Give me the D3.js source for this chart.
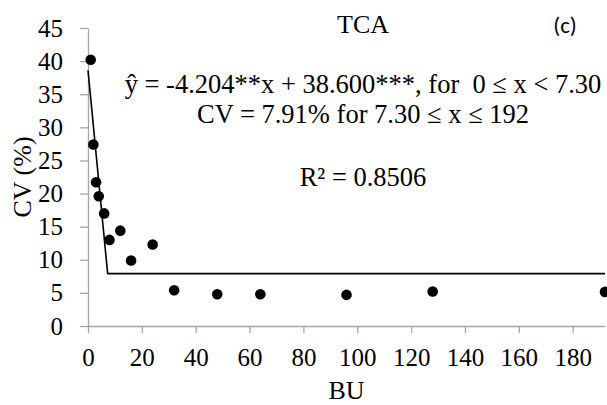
<!DOCTYPE html>
<html>
<head>
<meta charset="utf-8">
<script src="https://cdn.jsdelivr.net/npm/d3@7"></script>
<style>
  html, body { margin: 0; padding: 0; background: #fff; }
  svg { display: block; }
</style>
</head>
<body>
<script>
// Bit usage (BU) and coefficient of variation (CV, %) observations
const bu = [1, 2, 3, 4, 6, 8, 12, 16, 24, 32, 48, 64, 96, 128, 192];
const cv = [40.2, 27.4, 21.7, 19.6, 17.0, 13.0, 14.4, 9.9, 12.3, 5.4, 4.8, 4.8, 4.7, 5.2, 5.15];

// Linear-plateau fit: slope, intercept, join point and plateau
const slope = -4.204;
const intercept = 38.600;
const joinPoint = 7.30;
const plateau = 7.91;
const xMax = 192;

const xTicks = [0, 20, 40, 60, 80, 100, 120, 140, 160, 180];
const yTicks = [0, 5, 10, 15, 20, 25, 30, 35, 40, 45];

const eqLines = [
  "ŷ = -4.204**x + 38.600***, for  0 ≤ x < 7.30",
  "CV = 7.91% for 7.30 ≤ x ≤ 192"
];
const r2Text = "R² = 0.8506";

const SERIF = "'Liberation Serif', Tinos, 'Times New Roman', Times, serif";

const W = 607, H = 405;
const svg = d3.select("body").append("svg").attr("width", W).attr("height", H);

const x = d3.scaleLinear().domain([0, 192]).range([88, 605]);
const y = d3.scaleLinear().domain([0, 45]).range([326, 28]);

const axisColor = "#a6a6a6";

// X axis
const gx = svg.append("g").attr("transform", `translate(0,${y(0)})`)
  .call(d3.axisBottom(x).tickValues(xTicks).tickSize(7).tickSizeOuter(0).tickPadding(15));
// Y axis
const gy = svg.append("g").attr("transform", `translate(${x(0)},0)`)
  .call(d3.axisLeft(y).tickValues(yTicks).tickSize(8).tickSizeOuter(0).tickPadding(17));

[gx, gy].forEach(g => {
  g.attr("font-family", null).attr("font-size", null);
  g.select(".domain").attr("stroke", axisColor).attr("stroke-width", 1.3);
  g.selectAll(".tick line").attr("stroke", axisColor).attr("stroke-width", 1.3);
  g.selectAll(".tick text")
    .style("font-family", SERIF)
    .style("font-size", "25px")
    .attr("fill", "#000");
});

// Fitted linear-plateau line
const fit = v => (v < joinPoint ? slope * v + intercept : plateau);
const fitXs = [0, joinPoint, xMax];
svg.append("path")
  .datum(fitXs)
  .attr("fill", "none")
  .attr("stroke", "#000")
  .attr("stroke-width", 1.6)
  .attr("stroke-linejoin", "round")
  .attr("d", d3.line().x(d => x(d)).y(d => y(d === joinPoint ? plateau : fit(d))));

// Observed points
svg.append("g").selectAll("circle")
  .data(bu.map((b, i) => ({ b, c: cv[i] })))
  .join("circle")
  .attr("cx", d => x(d.b))
  .attr("cy", d => y(d.c))
  .attr("r", 5.3)
  .attr("fill", "#000");

function label(txt, px, py, size) {
  return svg.append("text")
    .attr("x", px).attr("y", py)
    .attr("text-anchor", "middle")
    .style("font-family", SERIF)
    .style("font-size", size + "px")
    .style("white-space", "pre")
    .attr("fill", "#000")
    .text(txt);
}

// Title and panel tag
label("TCA", 363, 33, 26);
svg.append("text")
  .attr("x", 565).attr("y", 33)
  .attr("text-anchor", "middle")
  .style("font-family", "Carlito, Calibri, Lato, sans-serif")
  .style("font-size", "23px")
  .attr("fill", "#000")
  .text("(c)");

// Fit equation and R²
eqLines.forEach((t, i) => label(t, 363, 93 + i * 30, 26.5));
label(r2Text, 363, 186, 26.5);

// Axis titles
label("BU", x(96), 399, 26);
label("CV (%)", 0, 0, 26)
  .attr("transform", `translate(31,${(y(0) + y(45)) / 2}) rotate(-90)`);
</script>
</body>
</html>
